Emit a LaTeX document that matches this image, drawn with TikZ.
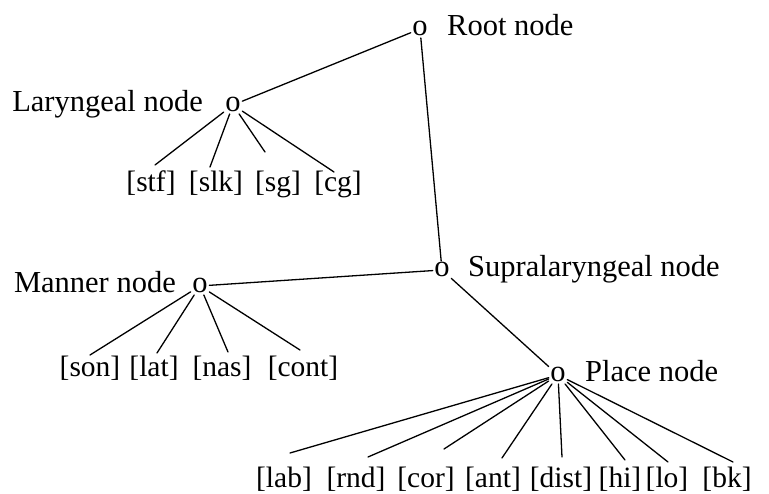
\documentclass[tikz,border=0pt]{standalone}
\usepackage{fontspec}
\setmainfont{Liberation Serif}
\begin{document}
\begin{tikzpicture}[x=1pt,y=-1pt,
  every node/.style={font=\fontsize{30.5}{36}\selectfont},
  dot/.style={anchor=base,inner sep=1.5pt},
  lbl/.style={anchor=base west,inner sep=0pt},
  lblr/.style={anchor=base east,inner sep=0pt},
  feat/.style={anchor=base,inner sep=0pt,font=\fontsize{29.5}{34}\selectfont},
  edge/.style={line width=1.3pt,line cap=round}]
\useasboundingbox (0,0) rectangle (769,494);
% main nodes
\node[dot] (root) at (420,36) {o};
\node[lbl] (rootT) at (447,36) {Root node};
\node[dot] (lar) at (233,112) {o};
\node[lblr] (larT) at (203,112) {Laryngeal node};
\node[dot] (sup) at (442,277) {o};
\node[lbl] (supT) at (468,277) {Supralaryngeal node};
\node[dot] (man) at (200,293) {o};
\node[lblr] (manT) at (176,293) {Manner node};
\node[dot] (pla) at (558,382) {o};
\node[lbl] (plaT) at (585,382) {Place node};
% laryngeal features
\node[feat] (stf) at (151,192) {[stf]};
\node[feat] (slk) at (216,192) {[slk]};
\node[feat] (sg) at (278,192) {[sg]};
\node[feat] (cg) at (338,192) {[cg]};
% manner features
\node[feat] (son) at (90,377) {[son]};
\node[feat] (lat) at (154,377) {[lat]};
\node[feat] (nas) at (222,377) {[nas]};
\node[feat] (cont) at (303,377) {[cont]};
% place features
\node[feat] (lab) at (284,487) {[lab]};
\node[feat] (rnd) at (356,487) {[rnd]};
\node[feat] (cor) at (426,487) {[cor]};
\node[feat] (ant) at (493,487) {[ant]};
\node[feat] (dist) at (561,487) {[dist]};
\node[feat] (hi) at (620,487) {[hi]};
\node[feat] (lo) at (667,487) {[lo]};
\node[feat] (bk) at (727,487) {[bk]};
% connector ends
\coordinate (estf) at (155,165);
\coordinate (eslk) at (210,167);
\coordinate (esg) at (265,152);
\coordinate (ecg) at (334,172);
\coordinate (eson) at (90,355);
\coordinate (elat) at (157,353);
\coordinate (enas) at (228,352);
\coordinate (econt) at (300,350);
\coordinate (elab) at (290,453);
\coordinate (ernd) at (368,457);
\coordinate (ecor) at (444,449);
\coordinate (eant) at (502,458);
\coordinate (edist) at (562,457);
\coordinate (ehi) at (625,460);
\coordinate (elo) at (668,462);
\coordinate (ebk) at (733,462);
% tree edges
\draw[edge] (root) -- (lar);
\draw[edge] (root) -- (sup);
\draw[edge] (sup) -- (man);
\draw[edge] (sup) -- (pla);
\foreach \e in {estf,eslk,esg,ecg} \draw[edge] (lar) -- (\e);
\foreach \e in {eson,elat,enas,econt} \draw[edge] (man) -- (\e);
\foreach \e in {elab,ernd,ecor,eant,edist,ehi,elo,ebk} \draw[edge] (pla) -- (\e);
\end{tikzpicture}
\end{document}
